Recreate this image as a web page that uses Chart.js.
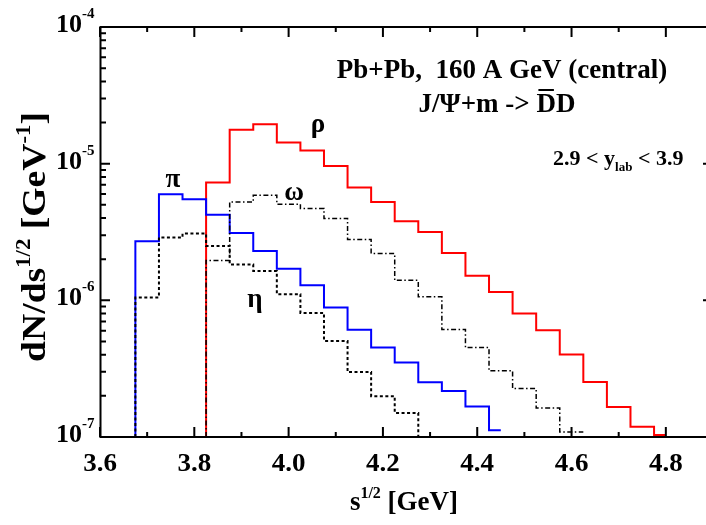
<!DOCTYPE html>
<html><head><meta charset="utf-8">
<script src="https://cdn.jsdelivr.net/npm/chart.js@4"></script>
<style>
html,body{margin:0;padding:0;overflow:hidden;background:#fff;width:706px;height:525px}
#wrap{position:absolute;left:0;top:0;width:716px;height:525px}
</style>
</head><body><div id="wrap"><canvas id="c" width="716" height="525"></canvas></div>
<script>
// ---- axis ticks ----
const xMajorTicks = [3.6, 3.8, 4.0, 4.2, 4.4, 4.6, 4.8];
const xMinorTicks = [3.7, 3.9, 4.1, 4.3, 4.5, 4.7];
const xTickLabels = ["3.6", "3.8", "4.0", "4.2", "4.4", "4.6", "4.8"];
const yDecades = [-7, -6, -5, -4];
const yMinorMult = [2, 3, 4, 5, 6, 7, 8, 9];
const Y_MIN = 1e-7, Y_MAX = 1e-4, X_MIN = 3.6, X_MAX = 4.9;

// ---- data: bin edges (left edges + final right edge) and bin values ----
const piEdges = [3.675, 3.725, 3.775, 3.825, 3.875, 3.925, 3.975, 4.025, 4.075, 4.125, 4.175, 4.225, 4.275, 4.325, 4.375, 4.425, 4.45];
const piValues = [2.71e-6, 5.97e-6, 5.5e-6, 4.22e-6, 3.11e-6, 2.3e-6, 1.70e-6, 1.29e-6, 8.85e-7, 6.1e-7, 4.51e-7, 3.51e-7, 2.52e-7, 2.17e-7, 1.67e-7, 1.12e-7];

const rhoEdges = [3.825, 3.875, 3.925, 3.975, 4.025, 4.075, 4.125, 4.175, 4.225, 4.275, 4.325, 4.375, 4.425, 4.475, 4.525, 4.575, 4.625, 4.675, 4.725, 4.775, 4.8];
const rhoValues = [7.28e-6, 1.77e-5, 1.94e-5, 1.43e-5, 1.25e-5, 9.62e-6, 6.68e-6, 5.25e-6, 3.79e-6, 3.16e-6, 2.22e-6, 1.51e-6, 1.15e-6, 8.0e-7, 6.04e-7, 4.02e-7, 2.53e-7, 1.66e-7, 1.19e-7, 1.035e-7];

const omegaEdges = [3.825, 3.875, 3.925, 3.975, 4.025, 4.075, 4.125, 4.175, 4.225, 4.275, 4.325, 4.375, 4.425, 4.475, 4.525, 4.575, 4.625];
const omegaValues = [1.96e-6, 5.25e-6, 5.87e-6, 5.05e-6, 4.69e-6, 3.97e-6, 2.79e-6, 2.20e-6, 1.40e-6, 1.06e-6, 6.11e-7, 4.51e-7, 3.05e-7, 2.26e-7, 1.63e-7, 1.09e-7];

const etaEdges = [3.675, 3.725, 3.775, 3.825, 3.875, 3.925, 3.975, 4.025, 4.075, 4.125, 4.175, 4.225, 4.275];
const etaValues = [1.05e-6, 2.88e-6, 3.08e-6, 2.50e-6, 1.83e-6, 1.64e-6, 1.11e-6, 8.09e-7, 5.05e-7, 2.99e-7, 1.99e-7, 1.50e-7];

function stepPoints(edges, values, fromBottom, toBottom) {
  const pts = [];
  if (fromBottom) pts.push({x: edges[0], y: Y_MIN});
  for (let i = 0; i < values.length; i++) pts.push({x: edges[i], y: values[i]});
  const last = edges[edges.length - 1];
  pts.push({x: last, y: values[values.length - 1]});
  if (toBottom) pts.push({x: last, y: Y_MIN});
  return pts;
}

const FONT = '"Liberation Serif", "Times New Roman", serif';
function f(size) { return 'bold ' + size + 'px ' + FONT; }

function rich(ctx, segs, x, y, align, stretch) {
  const k = stretch || 1;
  let w = 0;
  segs.forEach(s => { ctx.font = f(s.size); s.w = ctx.measureText(s.t).width; w += s.w; });
  ctx.save();
  ctx.translate(x, y);
  ctx.scale(k, 1);
  let cx = align === 'center' ? -w / 2 : (align === 'right' ? -w : 0);
  ctx.textAlign = 'left';
  ctx.textBaseline = 'alphabetic';
  segs.forEach(s => {
    ctx.font = f(s.size);
    ctx.fillText(s.t, cx, (s.dy || 0));
    if (s.over) {
      ctx.lineWidth = 2;
      ctx.beginPath();
      ctx.moveTo(cx + 2, s.over);
      ctx.lineTo(cx + s.w - 2, s.over);
      ctx.stroke();
    }
    cx += s.w;
  });
  ctx.restore();
}

const decor = {
  id: 'decor',
  afterDatasetsDraw(chart) {
    const ctx = chart.ctx;
    const xs = chart.scales.x, ys = chart.scales.y;
    const a = chart.chartArea;
    ctx.save();
    ctx.strokeStyle = '#000';
    ctx.fillStyle = '#000';
    ctx.lineWidth = 2;
    // frame
    ctx.beginPath();
    ctx.rect(a.left + 0.5, a.top, a.right - a.left, a.bottom - a.top);
    ctx.stroke();
    // x ticks
    ctx.beginPath();
    xMajorTicks.forEach(v => {
      const px = xs.getPixelForValue(v);
      ctx.moveTo(px, a.bottom); ctx.lineTo(px, a.bottom - 10);
      ctx.moveTo(px, a.top); ctx.lineTo(px, a.top + 10);
    });
    xMinorTicks.forEach(v => {
      const px = xs.getPixelForValue(v);
      ctx.moveTo(px, a.bottom); ctx.lineTo(px, a.bottom - 5);
      ctx.moveTo(px, a.top); ctx.lineTo(px, a.top + 5);
    });
    // y ticks
    yDecades.forEach(e => {
      const py = ys.getPixelForValue(Math.pow(10, e));
      ctx.moveTo(a.left, py); ctx.lineTo(a.left + 10, py);
      ctx.moveTo(a.right, py); ctx.lineTo(a.right - 10, py);
      if (e < -4) {
        yMinorMult.forEach(m => {
          const pm = ys.getPixelForValue(m * Math.pow(10, e));
          ctx.moveTo(a.left, pm); ctx.lineTo(a.left + 6, pm);
          ctx.moveTo(a.right, pm); ctx.lineTo(a.right - 6, pm);
        });
      }
    });
    ctx.stroke();

    // x tick labels
    xMajorTicks.forEach((v, i) => {
      rich(ctx, [{t: xTickLabels[i], size: 25}], xs.getPixelForValue(v), 471, 'center', 1.08);
    });
    // y tick labels
    yDecades.forEach(e => {
      const py = ys.getPixelForValue(Math.pow(10, e));
      ctx.textAlign = 'right';
      ctx.textBaseline = 'alphabetic';
      ctx.font = f(26);
      ctx.fillText('10', 82, py + 5);
      ctx.textAlign = 'left';
      ctx.font = f(15);
      ctx.fillText(String(e), 82, py - 9);
    });

    // axis titles
    rich(ctx, [{t: 's', size: 27}, {t: '1/2', size: 16, dy: -12}, {t: ' [GeV]', size: 27}], 404, 510, 'center');
    ctx.save();
    ctx.translate(45, 237);
    ctx.rotate(-Math.PI / 2);
    rich(ctx, [{t: 'dN/ds', size: 33}, {t: '1/2', size: 20, dy: -15}, {t: ' [GeV', size: 33}, {t: '-1', size: 20, dy: -15}, {t: ']', size: 33}], 0, 0, 'center', 1.14);
    ctx.restore();

    // annotations
    rich(ctx, [{t: 'Pb+Pb,  160 A GeV (central)', size: 27}], 502, 78, 'center');
    rich(ctx, [{t: 'J/\u03A8+m -> ', size: 27}, {t: 'D', size: 27, over: -22}, {t: 'D', size: 27}], 497, 112, 'center');
    rich(ctx, [{t: '2.9 < y', size: 22}, {t: 'lab', size: 13, dy: 6}, {t: ' < 3.9', size: 22}], 553, 165, 'left');

    ctx.textAlign = 'center';
    ctx.textBaseline = 'alphabetic';
    ctx.font = f(27);
    ctx.fillText('\u03C0', 173, 187);
    ctx.fillText('\u03C1', 318, 132);
    ctx.fillText('\u03C9', 294, 200);
    ctx.fillText('\u03B7', 255, 307);
    ctx.restore();
  }
};

new Chart(document.getElementById('c'), {
  type: 'line',
  data: {
    datasets: [
      {label: '\u03B7', data: stepPoints(etaEdges, etaValues, true, true), borderColor: '#000', borderWidth: 2, borderDash: [3, 2.5], stepped: 'before', pointRadius: 0, fill: false},
      {label: '\u03C9', data: stepPoints(omegaEdges, omegaValues, true, false), borderColor: '#000', borderWidth: 1.5, borderDash: [5, 2.5, 1.5, 2.5], stepped: 'before', pointRadius: 0, fill: false},
      {label: '\u03C0', data: stepPoints(piEdges, piValues, true, false), borderColor: '#0000ff', borderWidth: 2, stepped: 'before', pointRadius: 0, fill: false},
      {label: '\u03C1', data: stepPoints(rhoEdges, rhoValues, true, false), borderColor: '#ff0000', borderWidth: 2, stepped: 'before', pointRadius: 0, fill: false}
    ]
  },
  options: {
    responsive: false,
    animation: false,
    events: [],
    layout: {padding: {left: 100, top: 27, right: 3, bottom: 88}},
    plugins: {legend: {display: false}, tooltip: {enabled: false}},
    scales: {
      x: {type: 'linear', min: X_MIN, max: X_MAX, display: false},
      y: {type: 'logarithmic', min: Y_MIN, max: Y_MAX, display: false}
    }
  },
  plugins: [decor]
});
</script>
</body></html>
